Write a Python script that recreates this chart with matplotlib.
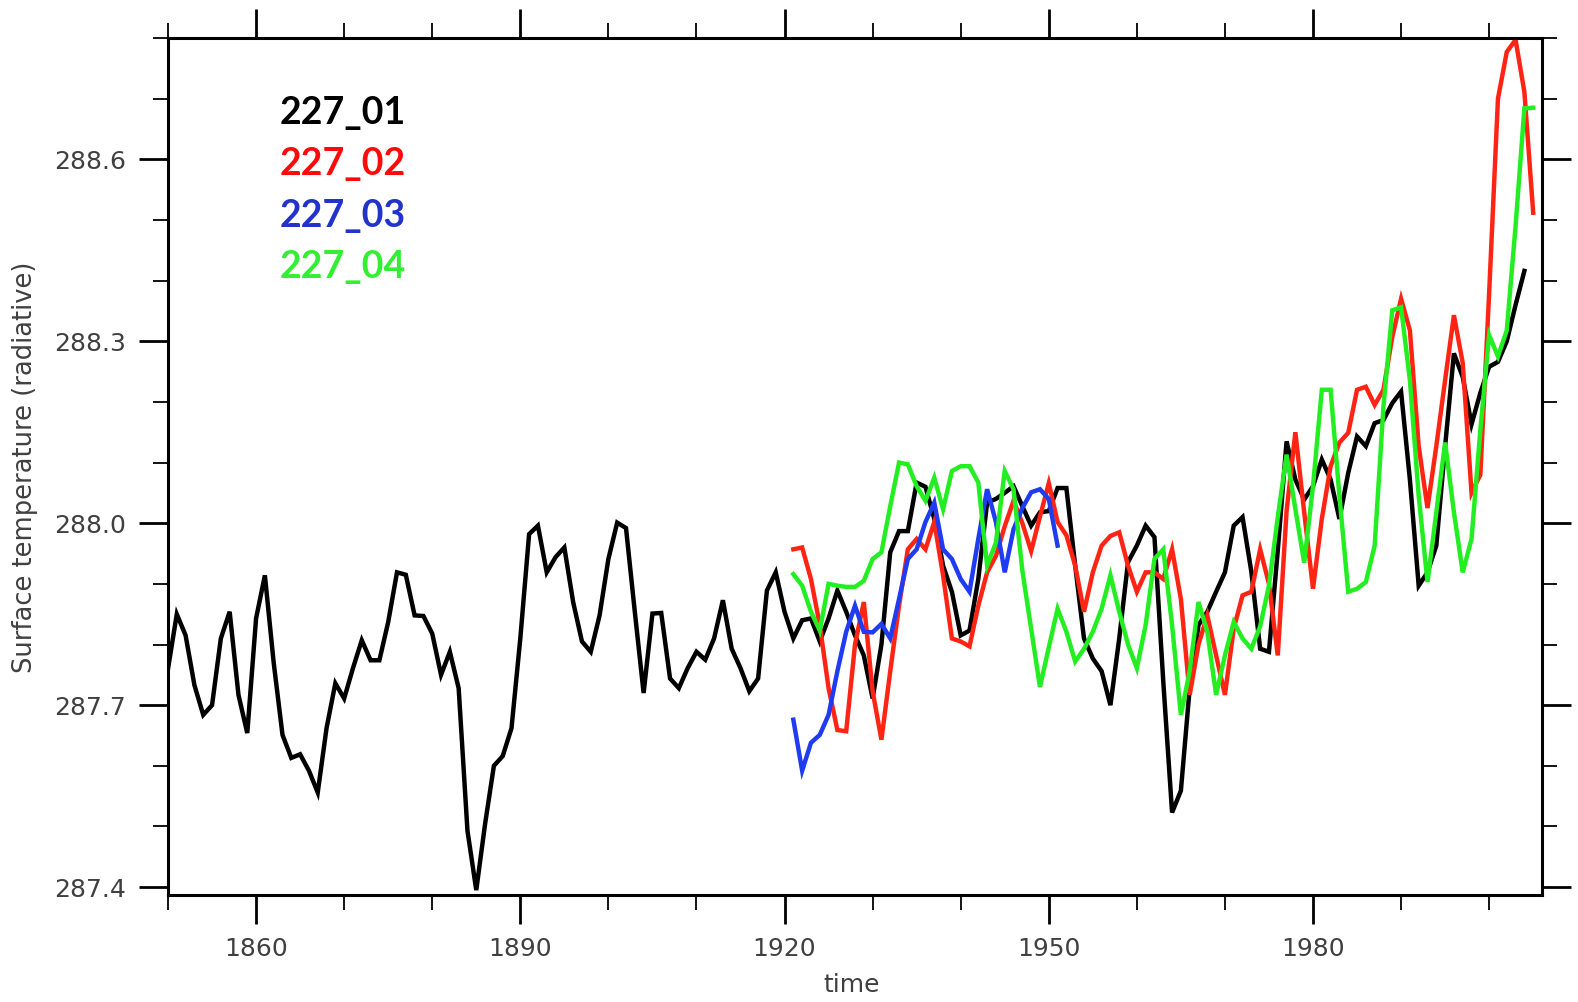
import numpy as np
import matplotlib
matplotlib.use("Agg")
import matplotlib.pyplot as plt
from matplotlib.ticker import MultipleLocator, FixedLocator

# ---------------- data ----------------
years_01 = list(range(1850, 2005))
run_01 = [
    287.76, 287.85, 287.815, 287.733, 287.684, 287.70, 287.81, 287.854, 287.717, 287.654,   # 1850-1859
    287.843, 287.914, 287.77, 287.651, 287.613, 287.619, 287.592, 287.556, 287.662, 287.736,  # 1860-1869
    287.711, 287.761, 287.807, 287.774, 287.774, 287.837, 287.919, 287.915, 287.848, 287.847, # 1870-1879
    287.818, 287.750, 287.788, 287.728, 287.493, 287.395, 287.504, 287.600, 287.616, 287.662, # 1880-1889
    287.81, 287.982, 287.996, 287.919, 287.944, 287.960, 287.870, 287.805, 287.788, 287.848,  # 1890-1899
    287.941, 288.001, 287.992, 287.854, 287.720, 287.851, 287.852, 287.744, 287.728, 287.761, # 1900-1909
    287.788, 287.775, 287.810, 287.873, 287.793, 287.761, 287.723, 287.744, 287.889, 287.919, # 1910-1919
    287.854, 287.810, 287.840, 287.843, 287.805, 287.843, 287.889, 287.854, 287.815, 287.782, # 1920-1929
    287.711, 287.80, 287.952, 287.987, 287.987, 288.067, 288.06, 288.007, 287.930, 287.887,   # 1930-1939
    287.815, 287.823, 287.908, 288.034, 288.04, 288.05, 288.061, 288.028, 287.996, 288.018,   # 1940-1949
    288.02, 288.058, 288.058, 287.93, 287.81, 287.777, 287.756, 287.70, 287.81, 287.936,      # 1950-1959
    287.963, 287.996, 287.977, 287.739, 287.523, 287.559, 287.728, 287.832, 287.854, 287.887, # 1960-1969
    287.919, 287.996, 288.01, 287.92, 287.793, 287.788, 287.955, 288.135, 288.072, 288.039,   # 1970-1979
    288.061, 288.105, 288.072, 288.007, 288.083, 288.143, 288.127, 288.165, 288.17, 288.198,  # 1980-1989
    288.217, 288.072, 287.897, 287.919, 287.963, 288.127, 288.28, 288.241, 288.163, 288.215,  # 1990-1999
    288.258, 288.266, 288.30, 288.36, 288.416,                                               # 2000-2004
]

years_02 = list(range(1921, 2006))
run_02 = [
    287.957, 287.96, 287.908, 287.832, 287.728, 287.659, 287.657, 287.80, 287.87,             # 1921-1929
    287.723, 287.643, 287.756, 287.864, 287.957, 287.974, 287.957, 288.002, 287.914, 287.81,  # 1930-1939
    287.805, 287.797, 287.864, 287.919, 287.946, 287.995, 288.037, 288.0, 287.954, 288.011,   # 1940-1949
    288.066, 288.002, 287.98, 287.93, 287.854, 287.919, 287.963, 287.979, 287.985, 287.93,    # 1950-1959
    287.887, 287.919, 287.919, 287.908, 287.957, 287.875, 287.717, 287.80, 287.848, 287.782,  # 1960-1969
    287.717, 287.826, 287.881, 287.887, 287.957, 287.90, 287.782, 288.02, 288.15, 288.018,    # 1970-1979
    287.892, 288.007, 288.094, 288.133, 288.149, 288.22, 288.225, 288.195, 288.22, 288.307,   # 1980-1989
    288.37, 288.318, 288.127, 288.025, 288.127, 288.236, 288.343, 288.264, 288.05, 288.08,    # 1990-1999
    288.38, 288.70, 288.777, 288.797, 288.711, 288.512,                                      # 2000-2005
]

years_03 = list(range(1921, 1952))
run_03 = [
    287.676, 287.592, 287.638, 287.651, 287.684, 287.756, 287.821, 287.864, 287.821,          # 1921-1929
    287.82, 287.834, 287.81, 287.875, 287.941, 287.957, 288.002, 288.034, 287.957, 287.941,   # 1930-1939
    287.908, 287.887, 287.974, 288.056, 288.002, 287.919, 287.99, 288.025, 288.051, 288.056,  # 1940-1949
    288.04, 287.963,                                                                         # 1950-1951
]

years_04 = list(range(1921, 2006))
run_04 = [
    287.916, 287.897, 287.854, 287.823, 287.90, 287.897, 287.895, 287.895, 287.905,           # 1921-1929
    287.941, 287.952, 288.028, 288.10, 288.097, 288.061, 288.037, 288.075, 288.023, 288.086,  # 1930-1939
    288.094, 288.094, 288.067, 287.93, 287.968, 288.086, 288.056, 287.922, 287.826, 287.73,   # 1940-1949
    287.795, 287.859, 287.821, 287.772, 287.793, 287.821, 287.859, 287.914, 287.854, 287.80,  # 1950-1959
    287.761, 287.832, 287.941, 287.957, 287.832, 287.684, 287.756, 287.87, 287.821, 287.717,  # 1960-1969
    287.782, 287.837, 287.81, 287.793, 287.83, 287.897, 288.010, 288.113, 288.023, 287.935,   # 1970-1979
    288.061, 288.22, 288.22, 288.045, 287.887, 287.892, 287.903, 287.963, 288.192, 288.351,   # 1980-1989
    288.356, 288.236, 288.045, 287.903, 288.018, 288.133, 288.018, 287.919, 287.974, 288.154, # 1990-1999
    288.31, 288.275, 288.318, 288.49, 288.684, 288.685,                                      # 2000-2005
]

series_names = ["227_01", "227_02", "227_03", "227_04"]
line_colors = ["#000000", "#ff2414", "#1f3cf0", "#22ee22"]
legend_colors = ["#000000", "#ff0a0a", "#2233cc", "#33ee33"]

y_major_ticks = [287.4, 287.7, 288.0, 288.3, 288.6]
y_tick_labels = ["287.4", "287.7", "288.0", "288.3", "288.6"]
x_major_ticks = [1860, 1890, 1920, 1950, 1980]
x_tick_labels = ["1860", "1890", "1920", "1950", "1980"]

# ---------------- figure ----------------
W, H = 1578, 1002
fig = plt.figure(figsize=(W / 100, H / 100), dpi=100)
fig.patch.set_facecolor("white")

left_px, right_px, top_px, bottom_px = 168, 1542, 38, 895
ax = fig.add_axes([left_px / W, 1 - bottom_px / H,
                   (right_px - left_px) / W, (bottom_px - top_px) / H])

all_years = [years_01, years_02, years_03, years_04]
all_runs = [run_01, run_02, run_03, run_04]
for yrs, vals, col in zip(all_years, all_runs, line_colors):
    ax.plot(yrs, vals, color=col, lw=3.2, solid_joinstyle="miter")

ax.set_xlim(1850, 2006)
ax.set_ylim(287.387, 288.8)

ax.xaxis.set_major_locator(FixedLocator(x_major_ticks))
ax.set_xticklabels(x_tick_labels)
ax.xaxis.set_minor_locator(MultipleLocator(10))
ax.yaxis.set_major_locator(FixedLocator(y_major_ticks))
ax.set_yticklabels(y_tick_labels)
ax.yaxis.set_minor_locator(MultipleLocator(0.1))

for s in ax.spines.values():
    s.set_linewidth(2.2)
    s.set_color("black")

ax.tick_params(which="major", direction="out", length=21, width=2.0,
               top=True, right=True, labelsize=18, labelcolor="#404040", pad=9)
ax.tick_params(which="minor", direction="out", length=11, width=1.3,
               top=True, right=True)
for lab in ax.get_xticklabels() + ax.get_yticklabels():
    lab.set_fontfamily("DejaVu Sans")

fig.text(852 / W, 1 - 985 / H, "time", ha="center", va="center",
         fontsize=18, color="#404040", family="DejaVu Sans")
fig.text(25 / W, 1 - 467 / H, "Surface temperature (radiative)", ha="center",
         va="center", rotation=90, fontsize=18.5, color="#404040",
         family="DejaVu Sans")

baselines = [124, 175, 227, 278]
for name, col, yb in zip(series_names, legend_colors, baselines):
    fig.text(280 / W, 1 - yb / H, name, ha="left", va="baseline",
             fontsize=27, fontweight="bold", color=col, family="Lato")

fig.savefig("out.png", dpi=100, facecolor="white")
